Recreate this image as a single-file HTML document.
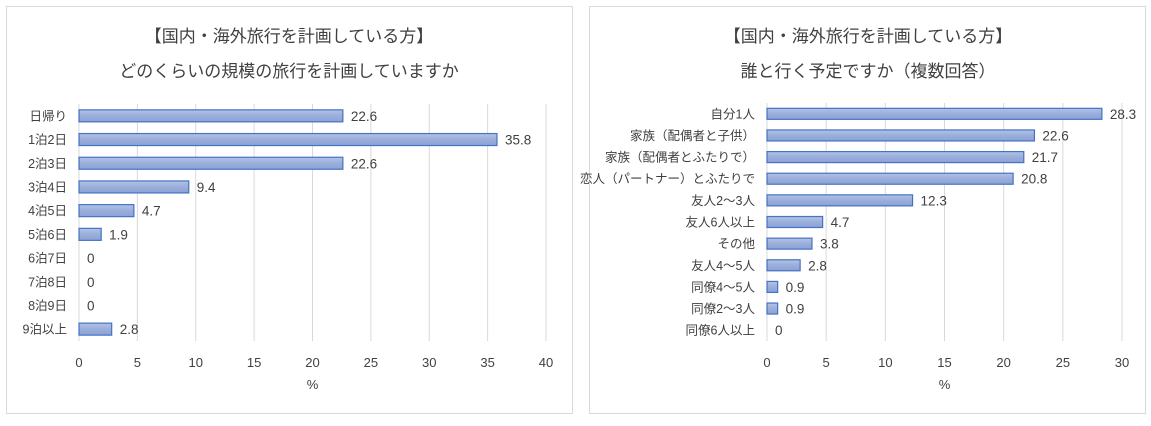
<!DOCTYPE html>
<html><head><meta charset="utf-8"><style>
body{margin:0;background:#fff;font-family:"Liberation Sans","Noto Sans CJK JP",sans-serif;}
svg text{font-family:"Liberation Sans","Noto Sans CJK JP",sans-serif;fill:#404040;}
</style></head><body>
<svg id="s" width="1151" height="421" viewBox="0 0 1151 421">
<defs><linearGradient id="g" x1="0" y1="0" x2="0" y2="1"><stop offset="0" stop-color="#b4c3e6"/><stop offset="0.5" stop-color="#9aaedb"/><stop offset="1" stop-color="#8ca2d6"/></linearGradient></defs>
<rect x="6.5" y="6.5" width="566" height="407" fill="#fff" stroke="#d9d9d9"/>
<rect x="589.5" y="6.5" width="556" height="407" fill="#fff" stroke="#d9d9d9"/>
<text x="289" y="42" font-size="17" text-anchor="middle" fill="#262626">【国内・海外旅行を計画している方】</text>
<text x="289" y="77" font-size="17" text-anchor="middle" fill="#262626">どのくらいの規模の旅行を計画していますか</text>
<text x="868" y="42" font-size="17" text-anchor="middle" fill="#262626">【国内・海外旅行を計画している方】</text>
<text x="868" y="77" font-size="17" text-anchor="middle" fill="#262626">誰と行く予定ですか（複数回答）</text>
</svg>
<script>
const leftCats=["日帰り","1泊2日","2泊3日","3泊4日","4泊5日","5泊6日","6泊7日","7泊8日","8泊9日","9泊以上"];
const leftVals=[22.6,35.8,22.6,9.4,4.7,1.9,0,0,0,2.8];
const leftTicks=[0,5,10,15,20,25,30,35,40];
const rightCats=["自分1人","家族（配偶者と子供）","家族（配偶者とふたりで）","恋人（パートナー）とふたりで","友人2～3人","友人6人以上","その他","友人4～5人","同僚4～5人","同僚2～3人","同僚6人以上"];
const rightVals=[28.3,22.6,21.7,20.8,12.3,4.7,3.8,2.8,0.9,0.9,0];
const rightTicks=[0,5,10,15,20,25,30];
const NS="http://www.w3.org/2000/svg";
const svg=document.getElementById("s");
function mk(tag,attrs,txt){const e=document.createElementNS(NS,tag);for(const k in attrs)e.setAttribute(k,attrs[k]);if(txt!==undefined)e.textContent=txt;svg.appendChild(e);return e;}
function chart(p,cats,vals,ticks,cfg){
  const max=ticks[ticks.length-1];
  const x=v=>cfg.x0+(v/max)*(cfg.x1-cfg.x0);
  const band=(cfg.bottom-cfg.top)/cats.length;
  ticks.forEach(t=>{
    const l=mk("line",{x1:x(t),x2:x(t),y1:cfg.top,y2:cfg.bottom,stroke:"#d9d9d9","stroke-width":1});
    
    
    const tl=mk("text",{x:x(t),y:cfg.bottom+26,"font-size":13,"text-anchor":"middle"},String(t));
    
    
  });
  cats.forEach((c,i)=>{
    const cy=cfg.top+band*(i+0.5);
    const cl=mk("text",{x:cfg.x0-12,y:cy+4.5,"font-size":12.5,"text-anchor":"end"},c);
    
    
    const w=x(vals[i])-x(0);
    if(w>0){
      const b=mk("rect",{x:x(0),y:cy-cfg.bh/2,width:w,height:cfg.bh,fill:"url(#g)",stroke:"#4472c4","stroke-width":1.2});
      
      
    }
    const vl=mk("text",{x:x(vals[i])+8,y:cy+5,"font-size":13.5},String(vals[i]));
    
    
  });
  const at=mk("text",{x:(cfg.x0+cfg.x1)/2,y:cfg.bottom+48,"font-size":13,"text-anchor":"middle"},"%");
  
  
}
chart("left",leftCats,leftVals,leftTicks,{x0:79,x1:546,top:104,bottom:341,bh:12});
chart("right",rightCats,rightVals,rightTicks,{x0:767,x1:1122,top:103,bottom:341,bh:11});
</script>
</body></html>
